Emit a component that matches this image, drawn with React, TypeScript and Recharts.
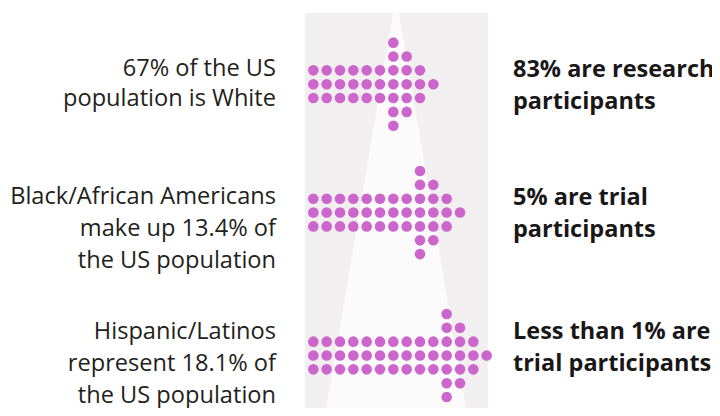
import { ScatterChart, Scatter, XAxis, YAxis } from "recharts";

// each row of an arrow: [first column, last column]
const whiteRows = [
  [6, 6],
  [6, 7],
  [0, 8],
  [0, 9],
  [0, 8],
  [6, 7],
  [6, 6],
];
const blackRows = [
  [8, 8],
  [8, 9],
  [0, 10],
  [0, 11],
  [0, 10],
  [8, 9],
  [8, 8],
];
const hispanicRows = [
  [10, 10],
  [10, 11],
  [0, 12],
  [0, 13],
  [0, 12],
  [10, 11],
  [10, 10],
];

const populationLabels = [
  ["67% of the US", "population is White"],
  ["Black/African Americans", "make up 13.4% of", "the US population"],
  ["Hispanic/Latinos", "represent 18.1% of", "the US population"],
];
const participantLabels = [
  ["83% are research", "participants"],
  ["5% are trial", "participants"],
  ["Less than 1% are", "trial participants"],
];

const DOT = "#cc66cc";
const W = 720;
const H = 416;

function toPoints(rows: number[][]) {
  const pts: { col: number; row: number }[] = [];
  rows.forEach(([a, b], row) => {
    for (let col = a; col <= b; col++) pts.push({ col, row });
  });
  return pts;
}

const Dot = (props: any) => (
  <circle cx={props.cx} cy={props.cy} r={5.3} fill={DOT} />
);

// y domains place each arrow at its own height
const yDomains: [number, number][] = [
  [-3.08, 26.96],
  [-12.35, 17.69],
  [-22.67, 7.37],
];
const textTops = [
  [52, 52],
  [179, 180],
  [314, 314],
];

export default function App() {
  const series = [whiteRows, blackRows, hispanicRows].map(toPoints);
  return (
    <div style={{ position: "relative", width: W, height: H, margin: -8, background: "#fff" }}>
      <svg width={W} height={H} style={{ position: "absolute", left: 0, top: 0 }}>
        <rect x={305} y={13} width={183} height={H - 13} fill="#f2eff1" />
        <polygon points={`393,13 399,13 467,${H} 325,${H}`} fill="#fcfbfc" />
      </svg>
      <div style={{ position: "absolute", left: 0, top: 0 }}>
        <ScatterChart width={W} height={H} margin={{ top: 0, right: 0, bottom: 0, left: 0 }}>
          <XAxis type="number" dataKey="col" domain={[-23.5, 30.5]} hide allowDataOverflow />
          {yDomains.map((d, i) => (
            <YAxis key={i} yAxisId={i} type="number" dataKey="row" domain={d} reversed hide allowDataOverflow />
          ))}
          {series.map((s, i) => (
            <Scatter key={i} yAxisId={i} data={s} shape={Dot} isAnimationActive={false} />
          ))}
        </ScatterChart>
      </div>
      {populationLabels.map((lines, i) => (
        <div
          key={"p" + i}
          style={{
            position: "absolute",
            right: W - 276,
            top: textTops[i][0],
            textAlign: "right",
            fontFamily: "'Open Sans', sans-serif",
            fontSize: 23.6,
            lineHeight: i === 0 ? "30px" : "32px",
            color: "#231f20",
            whiteSpace: "nowrap",
          }}
        >
          {lines.map((l) => (
            <div key={l}>{l}</div>
          ))}
        </div>
      ))}
      {participantLabels.map((lines, i) => (
        <div
          key={"t" + i}
          style={{
            position: "absolute",
            left: 513,
            top: textTops[i][1],
            fontFamily: "'Open Sans', sans-serif",
            fontWeight: 700,
            fontSize: 23.5,
            lineHeight: "32px",
            color: "#1a1718",
            whiteSpace: "nowrap",
          }}
        >
          {lines.map((l) => (
            <div key={l}>{l}</div>
          ))}
        </div>
      ))}
    </div>
  );
}
